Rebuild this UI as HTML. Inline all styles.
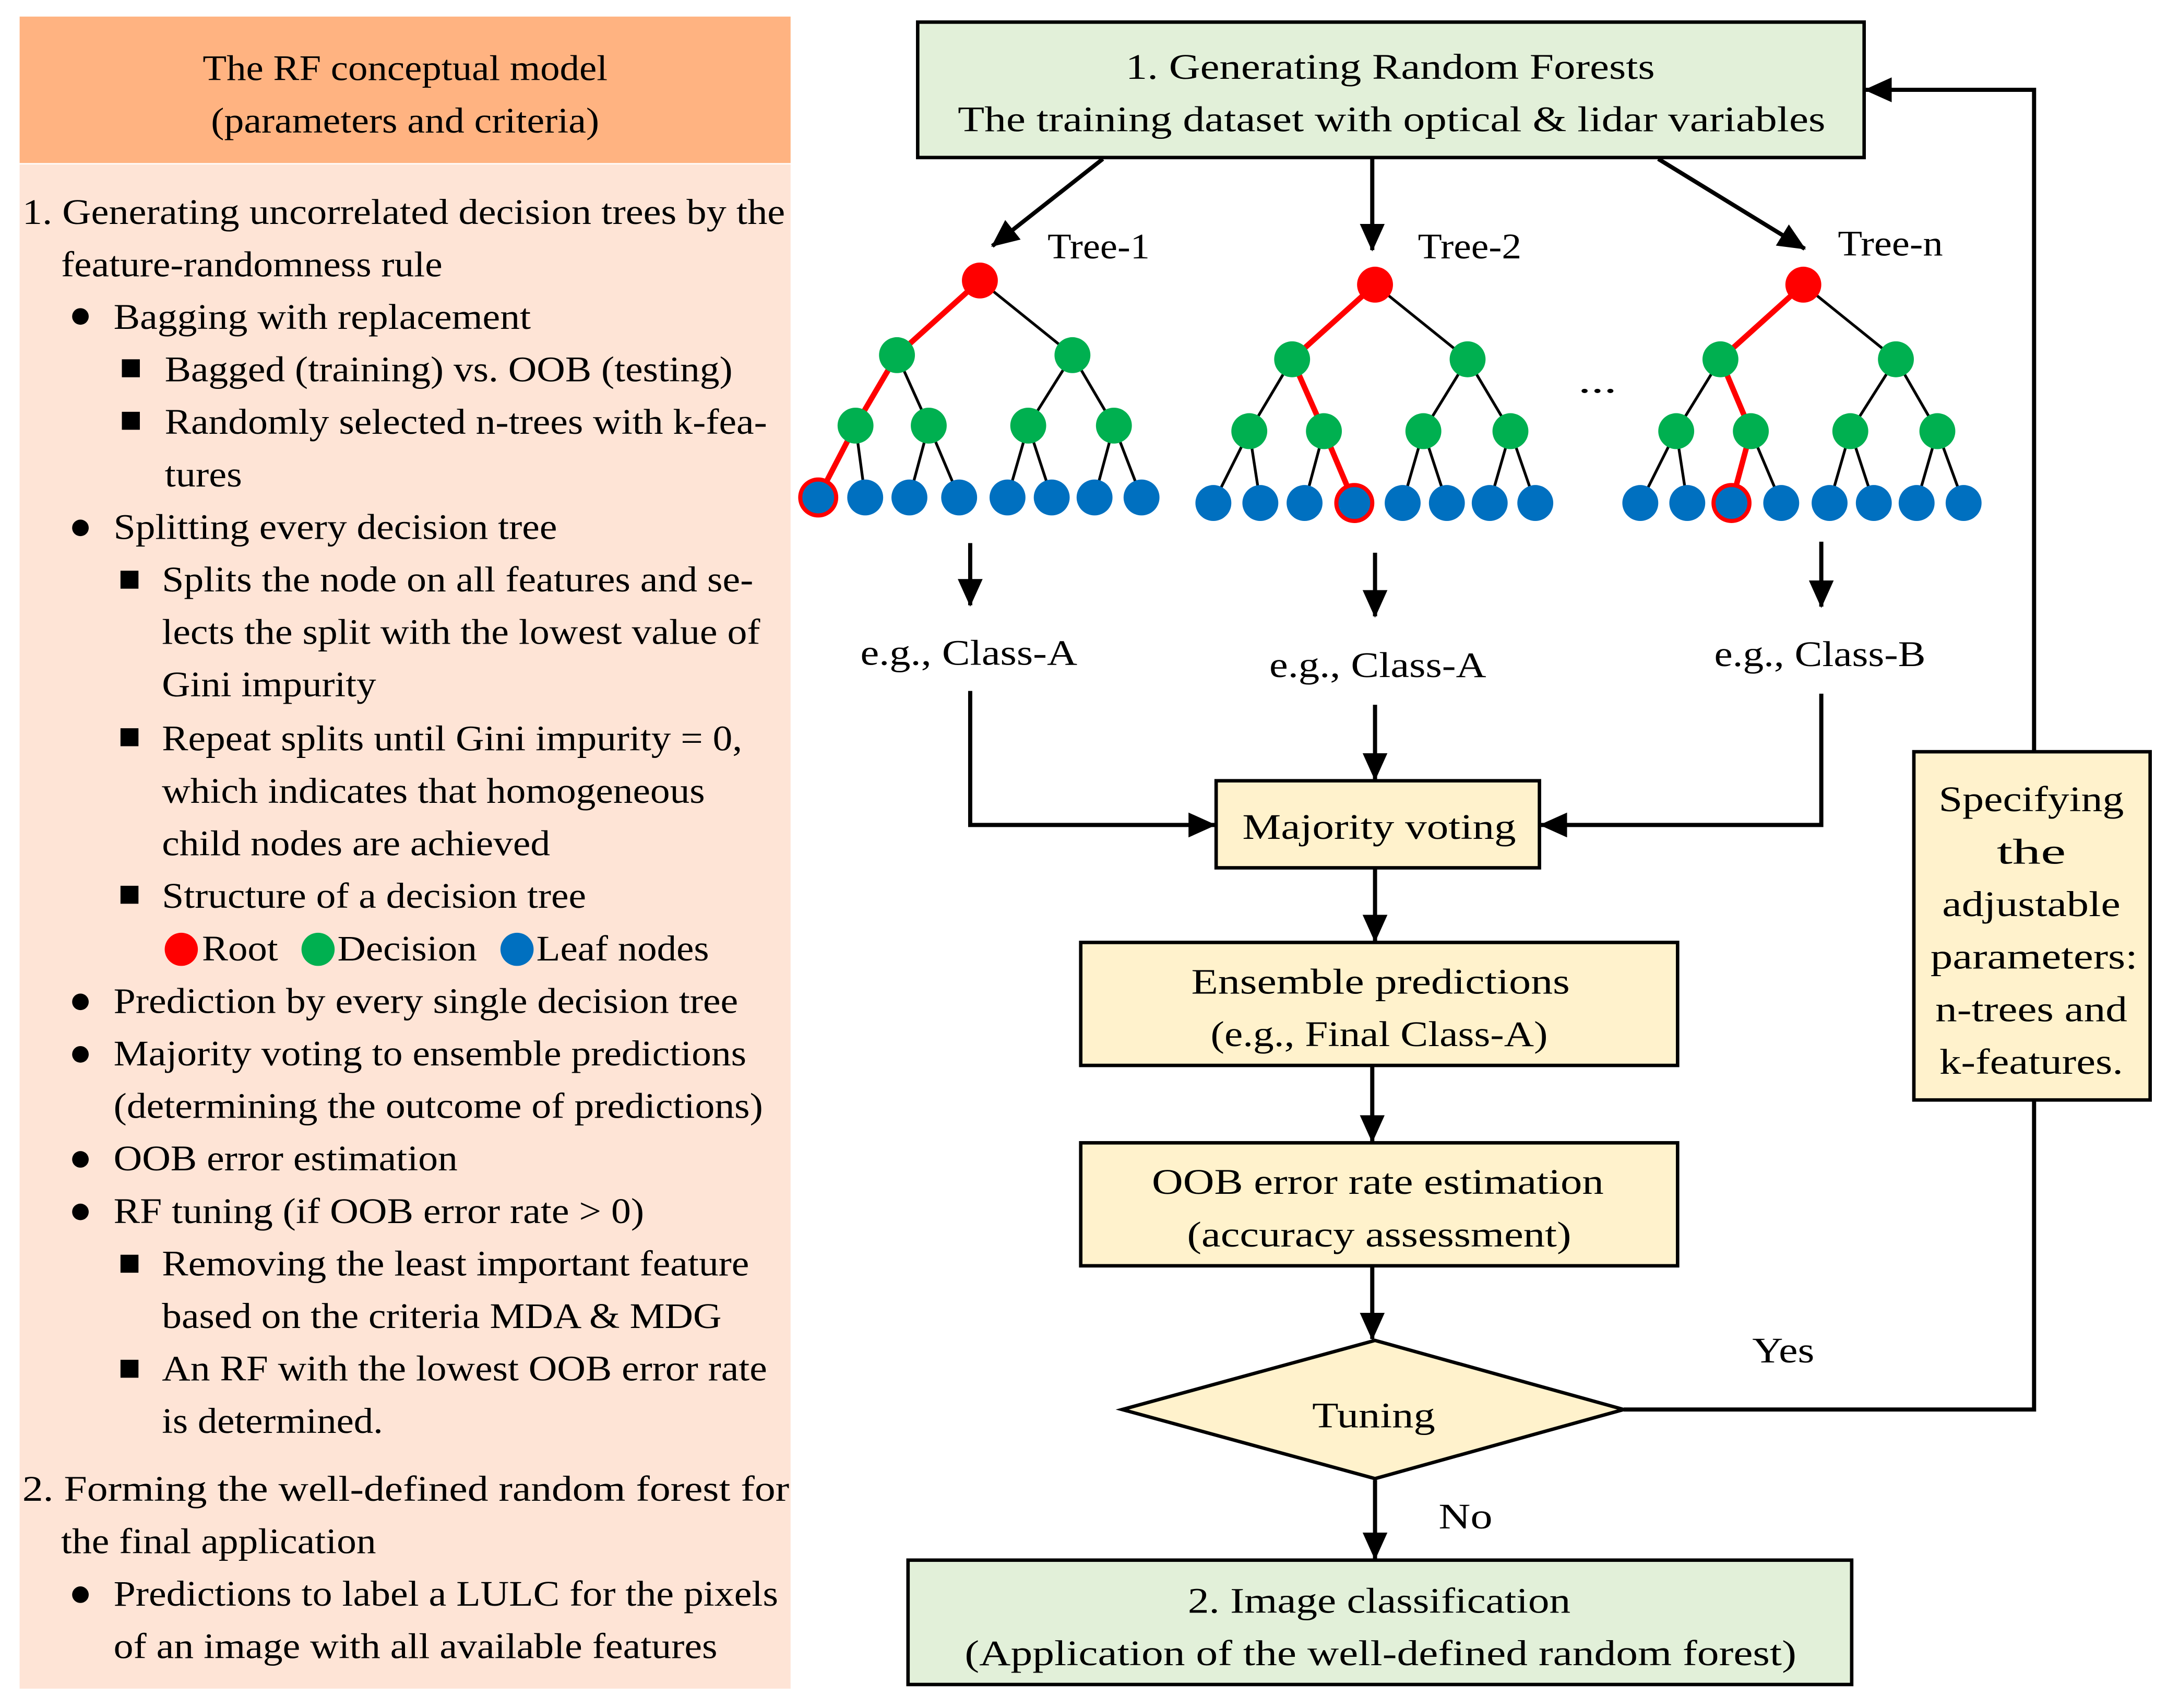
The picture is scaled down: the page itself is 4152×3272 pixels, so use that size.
<!DOCTYPE html>
<html><head><style>html,body{margin:0;padding:0;background:#fff}svg{display:block}</style></head>
<body>
<svg xmlns="http://www.w3.org/2000/svg" width="4152" height="3272" viewBox="0 0 1568 1236" font-family="Liberation Serif, serif" font-size="26">
<defs>
<marker id="b" markerWidth="20" markerHeight="18" refX="19" refY="9" orient="auto" markerUnits="userSpaceOnUse"><path d="M0,0 L20,9 L0,18 z" fill="#000"/></marker></defs>
<rect width="1568" height="1236" fill="#fff"/>
<!-- left panel -->
<rect x="14" y="12" width="558" height="106" fill="#FFB381"/>
<rect x="14" y="119" width="558" height="1103" fill="#FEE4D6"/>
<g text-anchor="middle" lengthAdjust="spacingAndGlyphs"><text x="293" y="58" textLength="293" lengthAdjust="spacingAndGlyphs">The RF conceptual model</text><text x="293" y="96" textLength="281" lengthAdjust="spacingAndGlyphs">(parameters and criteria)</text></g>
<g>
<text x="16" y="162" textLength="552" lengthAdjust="spacingAndGlyphs">1. Generating uncorrelated decision trees by the</text>
<text x="44" y="200" textLength="276" lengthAdjust="spacingAndGlyphs">feature-randomness rule</text>
<text x="82" y="238" textLength="302" lengthAdjust="spacingAndGlyphs">Bagging with replacement</text>
<text x="119" y="276" textLength="411" lengthAdjust="spacingAndGlyphs">Bagged (training) vs. OOB (testing)</text>
<text x="119" y="314" textLength="436" lengthAdjust="spacingAndGlyphs">Randomly selected n-trees with k-fea-</text>
<text x="119" y="352" textLength="56" lengthAdjust="spacingAndGlyphs">tures</text>
<text x="82" y="390" textLength="321" lengthAdjust="spacingAndGlyphs">Splitting every decision tree</text>
<text x="117" y="428" textLength="428" lengthAdjust="spacingAndGlyphs">Splits the node on all features and se-</text>
<text x="117" y="466" textLength="433" lengthAdjust="spacingAndGlyphs">lects the split with the lowest value of</text>
<text x="117" y="504" textLength="155" lengthAdjust="spacingAndGlyphs">Gini impurity</text>
<text x="117" y="543" textLength="420" lengthAdjust="spacingAndGlyphs">Repeat splits until Gini impurity = 0,</text>
<text x="117" y="581" textLength="393" lengthAdjust="spacingAndGlyphs">which indicates that homogeneous</text>
<text x="117" y="619" textLength="281" lengthAdjust="spacingAndGlyphs">child nodes are achieved</text>
<text x="117" y="657" textLength="307" lengthAdjust="spacingAndGlyphs">Structure of a decision tree</text>
<text x="146" y="695" textLength="55" lengthAdjust="spacingAndGlyphs">Root</text><text x="244" y="695" textLength="101" lengthAdjust="spacingAndGlyphs">Decision</text><text x="388" y="695" textLength="125" lengthAdjust="spacingAndGlyphs">Leaf nodes</text>
<text x="82" y="733" textLength="452" lengthAdjust="spacingAndGlyphs">Prediction by every single decision tree</text>
<text x="82" y="771" textLength="458" lengthAdjust="spacingAndGlyphs">Majority voting to ensemble predictions</text>
<text x="82" y="809" textLength="470" lengthAdjust="spacingAndGlyphs">(determining the outcome of predictions)</text>
<text x="82" y="847" textLength="249" lengthAdjust="spacingAndGlyphs">OOB error estimation</text>
<text x="82" y="885" textLength="384" lengthAdjust="spacingAndGlyphs">RF tuning (if OOB error rate &gt; 0)</text>
<text x="117" y="923" textLength="425" lengthAdjust="spacingAndGlyphs">Removing the least important feature</text>
<text x="117" y="961" textLength="405" lengthAdjust="spacingAndGlyphs">based on the criteria MDA &amp; MDG</text>
<text x="117" y="999" textLength="438" lengthAdjust="spacingAndGlyphs">An RF with the lowest OOB error rate</text>
<text x="117" y="1037" textLength="160" lengthAdjust="spacingAndGlyphs">is determined.</text>
<text x="16" y="1086" textLength="555" lengthAdjust="spacingAndGlyphs">2. Forming the well-defined random forest for</text>
<text x="44" y="1124" textLength="228" lengthAdjust="spacingAndGlyphs">the final application</text>
<text x="82" y="1162" textLength="481" lengthAdjust="spacingAndGlyphs">Predictions to label a LULC for the pixels</text>
<text x="82" y="1200" textLength="437" lengthAdjust="spacingAndGlyphs">of an image with all available features</text>
</g>
<g fill="#000">
<circle cx="58" cy="229" r="6"/><circle cx="58" cy="382" r="6"/><circle cx="58" cy="725" r="6"/><circle cx="58" cy="763" r="6"/><circle cx="58" cy="839" r="6"/><circle cx="58" cy="877" r="6"/><circle cx="58" cy="1154" r="6"/>
<rect x="88" y="260" width="13" height="13"/><rect x="88" y="298" width="13" height="13"/><rect x="87" y="413" width="13" height="13"/><rect x="87" y="527" width="13" height="13"/><rect x="87" y="641" width="13" height="13"/><rect x="87" y="908" width="13" height="13"/><rect x="87" y="984" width="13" height="13"/>
</g>
<circle cx="131" cy="687" r="12" fill="#FF0000"/><circle cx="230" cy="687" r="12" fill="#00B050"/><circle cx="374" cy="687" r="12" fill="#0070C0"/>

<!-- boxes -->
<g stroke="#000" stroke-width="2.5">
<rect x="664" y="16" width="685" height="98" fill="#E2F0D9"/>
<rect x="880" y="565" width="234" height="63" fill="#FFF2CC"/>
<rect x="782" y="682" width="432" height="89" fill="#FFF2CC"/>
<rect x="782" y="827" width="432" height="89" fill="#FFF2CC"/>
<polygon points="812,1020 995,970 1175,1020 995,1070" fill="#FFF2CC"/>
<rect x="1385" y="544" width="171" height="252" fill="#FFF2CC"/>
<rect x="657" y="1129" width="683" height="90" fill="#E2F0D9"/>
</g>
<g text-anchor="middle">
<text x="1006" y="57" textLength="383" lengthAdjust="spacingAndGlyphs">1. Generating Random Forests</text>
<text x="1007" y="95" textLength="628" lengthAdjust="spacingAndGlyphs">The training dataset with optical &amp; lidar variables</text>
<text x="998" y="607" textLength="198" lengthAdjust="spacingAndGlyphs">Majority voting</text>
<text x="999" y="719" textLength="274" lengthAdjust="spacingAndGlyphs">Ensemble predictions</text><text x="998" y="757" textLength="244" lengthAdjust="spacingAndGlyphs">(e.g., Final Class-A)</text>
<text x="997" y="864" textLength="327" lengthAdjust="spacingAndGlyphs">OOB error rate estimation</text><text x="998" y="902" textLength="278" lengthAdjust="spacingAndGlyphs">(accuracy assessment)</text>
<text x="994" y="1033" textLength="89" lengthAdjust="spacingAndGlyphs">Tuning</text>
<text x="1470" y="587" textLength="134" lengthAdjust="spacingAndGlyphs">Specifying</text><text x="1470" y="625" textLength="50" lengthAdjust="spacingAndGlyphs">the</text><text x="1470" y="663" textLength="129" lengthAdjust="spacingAndGlyphs">adjustable</text><text x="1472" y="701" textLength="150" lengthAdjust="spacingAndGlyphs">parameters:</text><text x="1470" y="739" textLength="139" lengthAdjust="spacingAndGlyphs">n-trees and</text><text x="1470" y="777" textLength="133" lengthAdjust="spacingAndGlyphs">k-features.</text>
<text x="998" y="1167" textLength="277" lengthAdjust="spacingAndGlyphs">2. Image classification</text><text x="999" y="1205" textLength="602" lengthAdjust="spacingAndGlyphs">(Application of the well-defined random forest)</text>
<text x="701" y="481" textLength="157" lengthAdjust="spacingAndGlyphs">e.g., Class-A</text><text x="997" y="490" textLength="157" lengthAdjust="spacingAndGlyphs">e.g., Class-A</text><text x="1317" y="482" textLength="153" lengthAdjust="spacingAndGlyphs">e.g., Class-B</text>
</g>
<text x="758" y="187" textLength="74" lengthAdjust="spacingAndGlyphs">Tree-1</text><text x="1026" y="187" textLength="75" lengthAdjust="spacingAndGlyphs">Tree-2</text><text x="1330" y="185" textLength="76" lengthAdjust="spacingAndGlyphs">Tree-n</text>
<text x="1268" y="986" textLength="45" lengthAdjust="spacingAndGlyphs">Yes</text><text x="1041" y="1106" textLength="39" lengthAdjust="spacingAndGlyphs">No</text>
<text x="1142" y="284" textLength="28" lengthAdjust="spacingAndGlyphs">...</text>
<!-- connectors -->
<g stroke="#000" stroke-width="3" fill="none" marker-end="url(#b)">
<line x1="798" y1="115" x2="718" y2="178"/>
<line x1="993" y1="115" x2="993" y2="181"/>
<line x1="1200" y1="115" x2="1306" y2="180"/>
<line x1="702" y1="393" x2="702" y2="438"/>
<line x1="995" y1="400" x2="995" y2="446"/>
<line x1="1318" y1="392" x2="1318" y2="439"/>
<polyline points="702,500 702,597 879,597"/>
<line x1="995" y1="510" x2="995" y2="564"/>
<polyline points="1318,502 1318,597 1115,597"/>
<line x1="995" y1="629" x2="995" y2="681"/>
<line x1="993" y1="772" x2="993" y2="826"/>
<line x1="993" y1="917" x2="993" y2="969"/>
<line x1="995" y1="1071" x2="995" y2="1128"/>
<polyline points="1472,544 1472,65 1350,65"/>
</g>
<polyline points="1175,1020 1472,1020 1472,797" stroke="#000" stroke-width="3" fill="none"/>
<!-- trees -->
<g>
<g stroke="#000" stroke-width="2">
<line x1="709" y1="203" x2="776" y2="257"/><line x1="649" y1="257" x2="672" y2="308"/><line x1="776" y1="257" x2="744" y2="308"/><line x1="776" y1="257" x2="806" y2="308"/>
<line x1="619" y1="308" x2="626" y2="360"/><line x1="672" y1="308" x2="658" y2="360"/><line x1="672" y1="308" x2="694" y2="360"/><line x1="744" y1="308" x2="729" y2="360"/><line x1="744" y1="308" x2="761" y2="360"/><line x1="806" y1="308" x2="792" y2="360"/><line x1="806" y1="308" x2="826" y2="360"/>
</g>
<polyline points="709,203 649,257 619,308 592,360" stroke="#FF0000" stroke-width="4" fill="none"/>
<circle cx="709" cy="203" r="13" fill="#FF0000"/>
<g fill="#00B050"><circle cx="649" cy="257" r="13"/><circle cx="776" cy="257" r="13"/><circle cx="619" cy="308" r="13"/><circle cx="672" cy="308" r="13"/><circle cx="744" cy="308" r="13"/><circle cx="806" cy="308" r="13"/></g>
<g fill="#0070C0"><circle cx="592" cy="360" r="13" stroke="#FF0000" stroke-width="3"/><circle cx="626" cy="360" r="13"/><circle cx="658" cy="360" r="13"/><circle cx="694" cy="360" r="13"/><circle cx="729" cy="360" r="13"/><circle cx="761" cy="360" r="13"/><circle cx="792" cy="360" r="13"/><circle cx="826" cy="360" r="13"/></g>
</g>
<g>
<g stroke="#000" stroke-width="2">
<line x1="995" y1="206" x2="1062" y2="260"/><line x1="935" y1="260" x2="904" y2="312"/><line x1="1062" y1="260" x2="1030" y2="312"/><line x1="1062" y1="260" x2="1093" y2="312"/>
<line x1="904" y1="312" x2="878" y2="364"/><line x1="904" y1="312" x2="912" y2="364"/><line x1="958" y1="312" x2="944" y2="364"/><line x1="1030" y1="312" x2="1015" y2="364"/><line x1="1030" y1="312" x2="1047" y2="364"/><line x1="1093" y1="312" x2="1078" y2="364"/><line x1="1093" y1="312" x2="1111" y2="364"/>
</g>
<polyline points="995,206 935,260 958,312 980,364" stroke="#FF0000" stroke-width="4" fill="none"/>
<circle cx="995" cy="206" r="13" fill="#FF0000"/>
<g fill="#00B050"><circle cx="935" cy="260" r="13"/><circle cx="1062" cy="260" r="13"/><circle cx="904" cy="312" r="13"/><circle cx="958" cy="312" r="13"/><circle cx="1030" cy="312" r="13"/><circle cx="1093" cy="312" r="13"/></g>
<g fill="#0070C0"><circle cx="878" cy="364" r="13"/><circle cx="912" cy="364" r="13"/><circle cx="944" cy="364" r="13"/><circle cx="980" cy="364" r="13" stroke="#FF0000" stroke-width="3"/><circle cx="1015" cy="364" r="13"/><circle cx="1047" cy="364" r="13"/><circle cx="1078" cy="364" r="13"/><circle cx="1111" cy="364" r="13"/></g>
</g>
<g>
<g stroke="#000" stroke-width="2">
<line x1="1305" y1="206" x2="1372" y2="260"/><line x1="1245" y1="260" x2="1213" y2="312"/><line x1="1372" y1="260" x2="1339" y2="312"/><line x1="1372" y1="260" x2="1402" y2="312"/>
<line x1="1213" y1="312" x2="1187" y2="364"/><line x1="1213" y1="312" x2="1221" y2="364"/><line x1="1267" y1="312" x2="1289" y2="364"/><line x1="1339" y1="312" x2="1324" y2="364"/><line x1="1339" y1="312" x2="1356" y2="364"/><line x1="1402" y1="312" x2="1387" y2="364"/><line x1="1402" y1="312" x2="1421" y2="364"/>
</g>
<polyline points="1305,206 1245,260 1267,312 1253,364" stroke="#FF0000" stroke-width="4" fill="none"/>
<circle cx="1305" cy="206" r="13" fill="#FF0000"/>
<g fill="#00B050"><circle cx="1245" cy="260" r="13"/><circle cx="1372" cy="260" r="13"/><circle cx="1213" cy="312" r="13"/><circle cx="1267" cy="312" r="13"/><circle cx="1339" cy="312" r="13"/><circle cx="1402" cy="312" r="13"/></g>
<g fill="#0070C0"><circle cx="1187" cy="364" r="13"/><circle cx="1221" cy="364" r="13"/><circle cx="1253" cy="364" r="13" stroke="#FF0000" stroke-width="3"/><circle cx="1289" cy="364" r="13"/><circle cx="1324" cy="364" r="13"/><circle cx="1356" cy="364" r="13"/><circle cx="1387" cy="364" r="13"/><circle cx="1421" cy="364" r="13"/></g>
</g>
</svg>
</body></html>
